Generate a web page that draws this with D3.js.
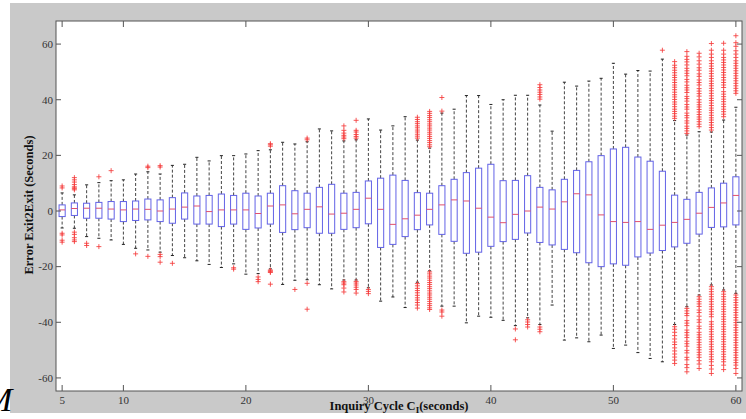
<!DOCTYPE html>
<html><head><meta charset="utf-8">
<script src="https://cdn.jsdelivr.net/npm/d3@7"></script>
<style>html,body{margin:0;padding:0;background:#fff;overflow:hidden}</style>
</head><body><svg id="c" width="746" height="419"></svg>
<script>
const positions = [5,6,7,8,9,10,11,12,13,14,15,16,17,18,19,20,21,22,23,24,25,26,27,28,29,30,31,32,33,34,35,36,37,38,39,40,41,42,43,44,45,46,47,48,49,50,51,52,53,54,55,56,57,58,59,60];
const q3 = [2.2,2.9,2.8,3.1,3.4,3.4,3.6,4.3,4.0,4.8,6.5,5.4,5.6,6.1,5.6,6.4,5.4,6.4,9.1,7.3,6.4,8.5,9.6,6.4,6.7,10.8,11.8,12.9,11.0,6.6,6.4,9.1,11.4,13.8,15.4,16.8,10.9,11.0,12.7,8.5,7.6,11.4,14.6,17.7,19.9,22.3,22.9,19.4,17.9,14.3,5.7,4.2,6.7,8.3,10.0,12.3];
const median = [0.4,0.9,1.0,1.0,0.7,0.4,0.7,0.6,0.0,0.7,1.4,1.8,-0.2,0.4,0.4,0.4,-0.9,1.8,2.2,-1.0,0.6,1.5,-1.1,-0.8,0.6,4.6,0.6,-4.8,-2.8,-1.5,0.6,2.2,4.0,3.6,1.0,-2.2,-4.2,-1.2,0.0,1.4,0.7,3.3,6.2,5.8,-1.4,-3.8,-4.1,-3.8,-6.6,-5.1,-4.1,-3.0,-0.8,1.3,2.9,5.6];
const q1 = [-2.0,-1.6,-2.6,-2.6,-2.9,-3.8,-3.4,-3.2,-3.8,-4.4,-2.9,-4.7,-4.7,-5.6,-4.7,-6.6,-6.1,-4.7,-7.7,-6.7,-6.0,-8.0,-8.0,-6.6,-6.0,-4.6,-13.1,-12.0,-9.2,-6.7,-5.0,-8.4,-10.9,-15.2,-14.8,-12.7,-11.0,-10.2,-7.9,-11.3,-12.2,-13.8,-15.0,-18.6,-20.0,-19.0,-19.5,-16.5,-15.1,-14.2,-12.9,-11.6,-8.3,-5.9,-5.7,-5.0];
const whiskerHigh = [6.5,5.8,9.4,10.2,10.9,11.2,13.3,14.1,13.3,16.4,16.8,19.3,18.0,19.9,19.9,20.5,21.7,22.0,24.7,24.1,24.9,29.5,28.8,25.2,25.6,33.1,29.1,30.6,33.9,25.5,22.6,35.2,36.6,41.5,41.5,38.3,40.0,41.6,41.6,38.1,28.7,46.3,44.9,46.7,47.7,53.1,49.2,50.5,50.3,54.6,32.5,27.3,28.5,28.4,32.7,37.3];
const whiskerLow = [-6.1,-6.2,-9.2,-9.8,-10.4,-12.0,-13.4,-14.0,-14.8,-16.0,-16.8,-17.9,-19.2,-20.3,-19.0,-22.7,-22.5,-20.8,-26.4,-24.9,-24.7,-26.5,-28.0,-24.8,-24.8,-27.6,-32.4,-30.9,-34.7,-25.6,-21.5,-34.2,-34.2,-40.2,-37.8,-38.2,-39.3,-41.2,-38.4,-40.8,-33.8,-46.4,-45.6,-47.0,-44.6,-49.4,-48.2,-50.9,-53.0,-54.2,-40.8,-34.4,-30.2,-26.6,-28.4,-29.6];
const outliers = [
  [8.3,9.0,-8.0,-8.6,-10.5,-11.2],
  [7.6,8.0,8.3,8.7,9.5,10.4,11.2,12.0,-7.6,-8.4,-9.6,-10.4,-11.0],
  [-11.6,-12.4],
  [12.3,-12.8],
  [14.5],
  [],
  [-15.4],
  [15.6,16.1,-16.3],
  [15.8,16.3,-15.6,-16.4,-18.4],
  [-18.8],
  [],[],[],[],
  [-20.4,-20.9],
  [],
  [-23.7,-24.6,-25.4],
  [23.3,23.8,24.2,-21.2,-21.5,-21.8,-22.1,-26.3],
  [],
  [-28.2],
  [25.6,26.2,-26.0,-35.3],
  [],[],
  [26.0,26.6,27.2,28.0,29.0,30.6,-25.4,-25.9,-26.5,-27.7,-29.1],
  [26.2,26.8,27.5,28.4,29.0,32.6,-25.3,-25.9,-26.6,-27.4,-28.2,-29.5],
  [-28.2,-28.9,-29.7],
  [],[],[],
  [26.2,26.9,27.6,28.4,29.1,29.9,30.6,31.4,32.1,32.9,33.7,-26.1,-26.9,-27.8,-28.6,-29.4,-30.3,-31.2,-32.0,-32.9,-33.8,-34.9],
  [23.1,23.8,24.6,25.3,26.1,26.8,27.6,28.3,29.1,29.8,30.6,31.3,32.1,32.8,33.6,34.3,35.1,35.8,-21.9,-22.6,-23.4,-24.1,-24.9,-25.7,-26.4,-27.2,-27.9,-28.7,-29.5,-30.2,-31.0,-31.7,-32.5,-33.3,-34.0,-34.8,-35.4],
  [35.9,40.8,-35.6,-36.3,-37.8],
  [],[],[],[],[],
  [-42.4,-46.3],
  [-39.1,-39.9,-40.8,-41.7],
  [40.2,41.0,41.9,42.7,43.5,44.4,45.4,-41.7,-42.5,-43.4],
  [],[],[],[],[],[],[],[],[],
  [57.8],
  [33.3,34.1,35.0,35.8,36.6,37.5,38.4,39.2,40.1,41.0,41.8,42.7,43.6,44.5,45.3,46.2,47.1,48.0,48.8,49.7,50.6,51.5,52.4,53.7,-41.6,-42.5,-43.6,-44.8,-46.0,-47.1,-48.0,-49.2,-50.3,-51.4,-52.5,-53.6,-54.8],
  [27.9,28.8,29.7,30.5,31.6,32.4,33.5,34.3,35.2,36.6,37.4,38.3,39.5,40.4,41.2,42.6,43.5,44.3,45.2,46.4,47.3,48.6,49.5,50.4,51.3,52.5,53.6,54.5,55.6,57.3,-35.0,-35.9,-36.8,-37.6,-39.4,-40.3,-41.2,-42.8,-43.7,-44.6,-45.5,-46.8,-47.7,-48.6,-50.1,-51.0,-52.6,-53.5,-55.2,-56.3,-57.8],
  [30.3,31.2,32.1,33.0,33.8,34.7,35.6,36.5,37.4,38.2,39.1,40.0,41.3,42.2,43.1,44.0,45.3,46.2,47.1,48.4,49.3,50.6,51.5,52.8,54.0,55.4,56.7,-30.8,-31.7,-32.6,-33.4,-34.3,-35.6,-36.5,-37.8,-39.1,-40.0,-41.4,-42.3,-43.6,-44.5,-45.4,-46.3,-47.2,-48.1,-49.0,-49.9,-50.8,-51.7,-52.6,-53.8,-55.0,-56.6],
  [29.1,30.0,30.9,31.8,32.7,33.5,34.4,35.3,36.2,37.0,37.9,38.8,39.7,40.5,41.4,42.3,43.2,44.1,45.0,45.8,46.7,47.6,48.5,49.4,50.3,51.2,52.1,53.0,54.0,55.2,56.4,57.8,60.2,-27.2,-28.1,-29.0,-29.9,-30.8,-31.7,-32.6,-33.5,-34.4,-35.3,-36.2,-37.1,-38.0,-39.8,-40.7,-41.6,-42.5,-43.4,-44.3,-45.2,-46.1,-47.0,-47.9,-48.8,-49.7,-50.6,-51.5,-52.4,-53.3,-54.2,-55.5,-56.8,-58.4],
  [33.9,34.8,35.7,36.6,37.5,38.4,39.3,40.2,41.1,42.0,42.9,44.4,45.3,46.2,47.1,48.0,48.9,49.8,50.7,51.6,52.5,53.4,54.3,55.2,56.4,57.8,60.3,-29.0,-29.9,-30.8,-31.7,-32.6,-33.5,-34.4,-35.3,-36.2,-37.1,-38.0,-38.9,-39.8,-40.7,-41.6,-42.5,-43.4,-44.3,-45.2,-46.1,-47.0,-47.9,-48.8,-49.7,-50.6,-51.5,-52.4,-53.3,-54.2,-55.4,-57.0],
  [42.3,43.2,44.1,45.0,45.9,46.8,47.7,48.6,49.5,50.4,51.3,52.2,53.1,54.0,55.2,56.4,57.6,59.2,60.5,63.0,-30.2,-31.1,-32.0,-32.9,-33.8,-34.7,-35.6,-36.5,-37.4,-38.3,-39.2,-40.1,-41.0,-41.9,-42.8,-43.7,-44.6,-45.5,-46.4,-47.3,-48.2,-49.1,-50.0,-50.9,-51.8,-52.7,-53.6,-54.5,-55.4,-56.6,-58.4]
];
const xTicks = [5,10,20,30,40,50,60];
const yTicks = [-60,-40,-20,0,20,40,60];
const xLabelMain = "Inquiry Cycle C";
const xLabelSub = "I";
const xLabelTail = "(seconds)";
const yLabel = "Error Exit2Exit (Seconds)";

const serif = '"Liberation Serif","DejaVu Serif",serif';
const P = {left:56, top:21, right:742, bottom:391};
const x = d3.scaleLinear().domain([4.5,60.5]).range([P.left,P.right]);
const y = d3.scaleLinear().domain([-64.7,68.3]).range([P.bottom,P.top]);
const svg = d3.select('#c');

svg.append('rect').attr('x',10).attr('y',3).attr('width',736).attr('height',410).attr('fill','#c9c9c9');
svg.append('rect').attr('x',P.left).attr('y',P.top).attr('width',P.right-P.left).attr('height',P.bottom-P.top).attr('fill','#fff');

const data = positions.map((p,i)=>({p, lo:whiskerLow[i], q1:q1[i], med:median[i], q3:q3[i], hi:whiskerHigh[i], out:outliers[i]}));
const bw = (x(6)-x(5))*0.5;
const g = svg.append('g');

g.selectAll('line.wu').data(data).join('line').attr('class','wu')
  .attr('x1',d=>x(d.p)).attr('x2',d=>x(d.p)).attr('y1',d=>y(d.q3)).attr('y2',d=>y(d.hi))
  .attr('stroke','#444').attr('stroke-width',1).attr('stroke-dasharray','3,2');
g.selectAll('line.wl').data(data).join('line').attr('class','wl')
  .attr('x1',d=>x(d.p)).attr('x2',d=>x(d.p)).attr('y1',d=>y(d.q1)).attr('y2',d=>y(d.lo))
  .attr('stroke','#444').attr('stroke-width',1).attr('stroke-dasharray','3,2');
['hi','lo'].forEach(k=>{
  g.selectAll('line.c'+k).data(data).join('line').attr('class','c'+k)
    .attr('x1',d=>x(d.p)-bw/4).attr('x2',d=>x(d.p)+bw/4).attr('y1',d=>y(d[k])).attr('y2',d=>y(d[k]))
    .attr('stroke','#222').attr('stroke-width',1);
});
g.selectAll('rect.box').data(data).join('rect').attr('class','box')
  .attr('x',d=>x(d.p)-bw/2).attr('y',d=>y(d.q3)).attr('width',bw).attr('height',d=>y(d.q1)-y(d.q3))
  .attr('fill','none').attr('stroke','#6262e6').attr('stroke-width',1);
g.selectAll('line.med').data(data).join('line').attr('class','med')
  .attr('x1',d=>x(d.p)-bw/2).attr('x2',d=>x(d.p)+bw/2).attr('y1',d=>y(d.med)).attr('y2',d=>y(d.med))
  .attr('stroke','#e0506e').attr('stroke-width',1);
const pts = [];
data.forEach(d=>d.out.forEach(v=>pts.push({p:d.p,v})));
g.selectAll('path.out').data(pts).join('path').attr('class','out')
  .attr('d',d=>{const cx=x(d.p), cy=y(d.v); return `M${cx-2.5},${cy}H${cx+2.5}M${cx},${cy-2.5}V${cy+2.5}`;})
  .attr('stroke','#f43c3c').attr('stroke-opacity',0.85).attr('stroke-width',1).attr('fill','none');

svg.append('rect').attr('x',P.left).attr('y',P.top).attr('width',P.right-P.left).attr('height',P.bottom-P.top)
  .attr('fill','none').attr('stroke','#555').attr('stroke-width',1);
const tk = svg.append('g').attr('stroke','#555').attr('stroke-width',1);
xTicks.forEach(t=>{
  tk.append('line').attr('x1',x(t)).attr('x2',x(t)).attr('y1',P.bottom).attr('y2',P.bottom-6);
  tk.append('line').attr('x1',x(t)).attr('x2',x(t)).attr('y1',P.top).attr('y2',P.top+6);
});
yTicks.forEach(t=>{
  tk.append('line').attr('x1',P.left).attr('x2',P.left+5).attr('y1',y(t)).attr('y2',y(t));
  tk.append('line').attr('x1',P.right).attr('x2',P.right-5).attr('y1',y(t)).attr('y2',y(t));
});
svg.append('g').selectAll('text').data(xTicks).join('text')
  .attr('x',d=>x(d)).attr('y',404).attr('text-anchor','middle')
  .attr('font-family',serif).attr('font-size',11).attr('fill','#333').text(d=>d);
svg.append('g').selectAll('text').data(yTicks).join('text')
  .attr('x',53).attr('y',d=>y(d)).attr('dy','0.35em').attr('text-anchor','end')
  .attr('font-family',serif).attr('font-size',11).attr('fill','#333').text(d=>d);
const xl = svg.append('text').attr('x',399).attr('y',410).attr('text-anchor','middle')
  .attr('font-family',serif).attr('font-size',12.5).attr('font-weight','bold').attr('fill','#111');
xl.append('tspan').text(xLabelMain);
xl.append('tspan').attr('font-size',9).attr('dy',2.5).text(xLabelSub);
xl.append('tspan').attr('dy',-2.5).text(xLabelTail);
svg.append('text').attr('transform','translate(33,205) rotate(-90)').attr('text-anchor','middle')
  .attr('font-family',serif).attr('font-size',12.5).attr('font-weight','bold').attr('fill','#111').text(yLabel);
svg.append('text').attr('x',-16).attr('y',411).attr('font-family',serif).attr('font-style','italic')
  .attr('font-size',34).attr('fill','#000').text('M');
</script></body></html>
